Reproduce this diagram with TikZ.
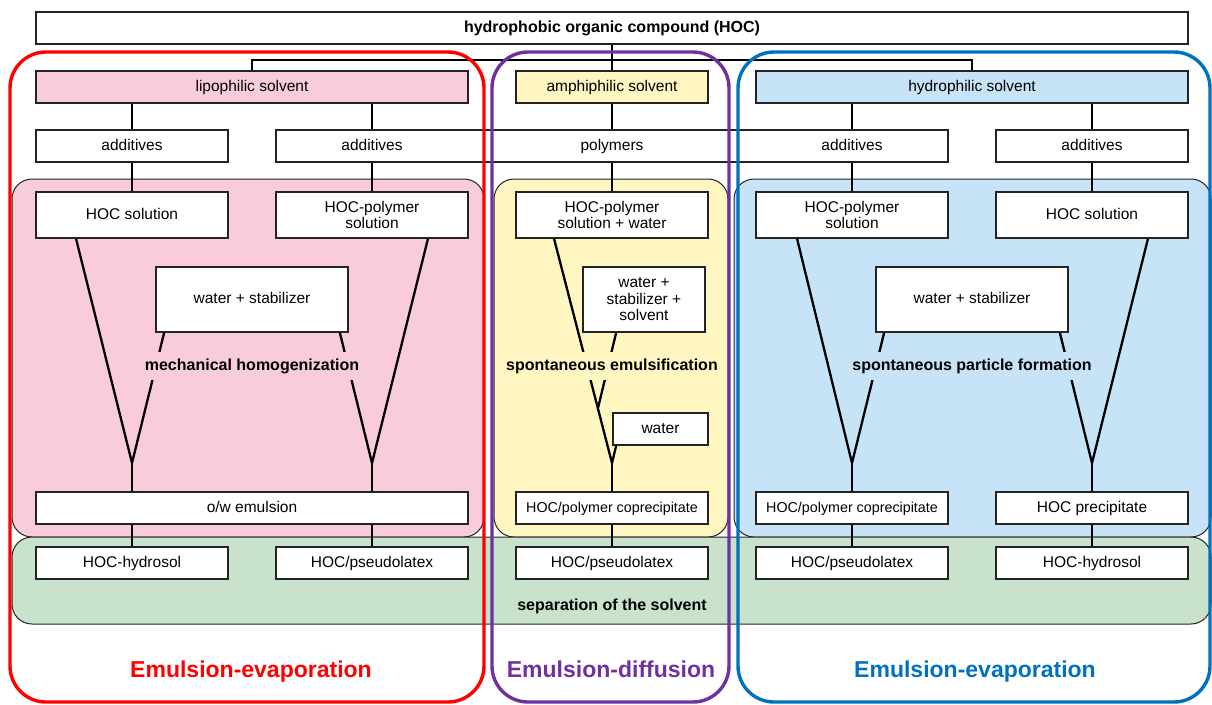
\documentclass[tikz,border=0pt]{standalone}
\usepackage{fontspec}
\setmainfont{Liberation Sans}
\usepackage{tikz}
\usepackage{color}
\definecolor{panelPink}{RGB}{248,204,218}
\definecolor{panelYellow}{RGB}{255,246,193}
\definecolor{panelBlue}{RGB}{199,227,247}
\definecolor{panelGreen}{RGB}{201,226,204}
\definecolor{frameRed}{RGB}{255,0,0}
\definecolor{framePurple}{RGB}{112,48,160}
\definecolor{frameBlue}{RGB}{0,112,192}
\definecolor{boxLine}{RGB}{35,35,35}

\begin{document}
\begin{tikzpicture}[x=1pt, y=-1pt, font=\fontsize{15.5}{16.5}\selectfont, line width=2.8pt, oneline/.style={text height=11.5pt, text depth=3.5pt}]
		\useasboundingbox (0,0) rectangle (1212,704);
		\begin{scope}[line width=1pt, rounded corners=20pt]
			\draw [draw=boxLine, fill=panelPink] (12,179) rectangle (484,537);
			\draw [draw=boxLine, fill=panelYellow] (494,179) rectangle (728,537);
			\draw [draw=boxLine, fill=panelBlue] (734,179) rectangle (1211,537);
			\draw [draw=boxLine, fill=panelGreen] (12,537) rectangle (1211,624);
		\end{scope}
		\begin{scope}[every node/.style={draw=boxLine, line width=1.8pt, fill=white, minimum width=192pt, minimum height=32pt, inner sep=0pt, align=center}]
			\node (hoc) at (612,28) [oneline, minimum width=1152pt, font=\fontsize{16}{17}\selectfont\bfseries] {hydrophobic organic compound (HOC)};
			\node (lipo) at (252,87) [oneline, minimum width=432pt, fill=panelPink] {lipophilic solvent};
			\node (amphi) at (612,87) [oneline, fill=panelYellow] {amphiphilic solvent};
			\node (hydro) at (972,87) [oneline, minimum width=432pt, fill=panelBlue] {hydrophilic solvent};
			\node (addL) at (132,146) [oneline] {additives};
			\node (poly) at (612,146) [oneline, minimum width=672pt] {polymers};
			\node (addR2) at (1092,146) [oneline] {additives};
			\node (solL) at (132,215) [oneline, minimum height=46pt] {HOC solution};
			\node (polL) at (372,215) [minimum height=46pt] {HOC-polymer\\solution};
			\node (polM) at (612,215) [minimum height=46pt] {HOC-polymer\\solution + water};
			\node (polR) at (852,215) [minimum height=46pt] {HOC-polymer\\solution};
			\node (solR) at (1092,215) [oneline, minimum height=46pt] {HOC solution};
			\node (stabL) at (252,299.5) [oneline, minimum height=65pt] {water + stabilizer};
			\node (stabM) at (644,299.5) [minimum width=122pt, minimum height=65pt] {water +\\stabilizer +\\solvent};
			\node (stabR) at (972,299.5) [oneline, minimum height=65pt] {water + stabilizer};
			\node (water) at (660.5,429) [oneline, minimum width=95pt] {water};
			\node (emul) at (252,508) [oneline, minimum width=432pt] {o/w emulsion};
			\node (copM) at (612,508) [oneline, font=\fontsize{14.3}{16}\selectfont] {HOC/polymer coprecipitate};
			\node (copR) at (852,508) [oneline, font=\fontsize{14.3}{16}\selectfont] {HOC/polymer coprecipitate};
			\node (precR) at (1092,508) [oneline] {HOC precipitate};
			\node (hydL) at (132,563) [oneline] {HOC-hydrosol};
			\node (pseuL) at (372,563) [oneline] {HOC/pseudolatex};
			\node (pseuM) at (612,563) [oneline] {HOC/pseudolatex};
			\node (pseuR) at (852,563) [oneline] {HOC/pseudolatex};
			\node (hydR) at (1092,563) [oneline] {HOC-hydrosol};
		\end{scope}
		\begin{scope}[every node/.style={oneline, minimum height=32pt, inner sep=0pt}]
			\node (addM) at (372,146) {additives};
			\node (addR) at (852,146) {additives};
		\end{scope}

		\coordinate (jn) at (612,60);
		\coordinate (mL) at (132,463);
		\coordinate (mL2) at (372,463);
		\coordinate (mMs) at (598,408);
		\coordinate (mM) at (612,463);
		\coordinate (mR) at (852,463);
		\coordinate (mR2) at (1092,463);

		\draw (hoc) -- (amphi);
		\draw (lipo) |- (jn) -| (hydro);
		\draw (addL |- lipo.south) -- (addL);
		\draw (addM |- lipo.south) -- (addM);
		\draw (amphi) -- (poly);
		\draw (addR |- hydro.south) -- (addR);
		\draw (addR2 |- hydro.south) -- (addR2);
		\draw (addL) -- (solL);
		\draw (addM) -- (polL);
		\draw (poly) -- (polM);
		\draw (addR) -- (polR);
		\draw (addR2) -- (solR);

		\begin{scope}[line width=2.3pt]
			\draw ([xshift=41pt]solL.south west) -- (mL);
			\draw ([xshift=9pt]stabL.south west) -- (mL);
			\draw ([xshift=-41pt]polL.south east) -- (mL2);
			\draw ([xshift=-9pt]stabL.south east) -- (mL2);
			\draw ([xshift=39pt]polM.south west) -- (mM);
			\draw ([xshift=34pt]stabM.south west) -- (mMs);
			\draw ([xshift=4pt]water.south west) -- (mM);
			\draw ([xshift=42pt]polR.south west) -- (mR);
			\draw ([xshift=9pt]stabR.south west) -- (mR);
			\draw ([xshift=-41pt]solR.south east) -- (mR2);
			\draw ([xshift=-9pt]stabR.south east) -- (mR2);
		\end{scope}
		\draw (mL) -- (emul.north -| mL);
		\draw (mL2) -- (emul.north -| mL2);
		\draw (mM) -- (copM);
		\draw (mR) -- (copR);
		\draw (mR2) -- (precR);
		\draw (emul.south -| hydL) -- (hydL);
		\draw (emul.south -| pseuL) -- (pseuL);
		\draw (copM) -- (pseuM);
		\draw (copR) -- (pseuR);
		\draw (precR) -- (hydR);

		\begin{scope}[every node/.style={font=\fontsize{16}{17}\selectfont\bfseries, inner xsep=2pt, inner ysep=7pt}]
			\node (mech) at (252,366) [fill=panelPink] {mechanical homogenization};
			\node (spEm) at (612,366) [fill=panelYellow] {spontaneous emulsification};
			\node (spPart) at (972,366) [fill=panelBlue] {spontaneous particle formation};
			\node (sep) at (612,606) {separation of the solvent};
		\end{scope}

		\begin{scope}[line width=3.4pt, rounded corners=36pt]
			\draw [frameRed] (10,52) rectangle (484,702);
			\draw [framePurple] (492,52) rectangle (729,702);
			\draw [frameBlue] (738,52) rectangle (1210,702);
		\end{scope}
		\begin{scope}[every node/.style={font=\fontsize{23}{26}\selectfont\bfseries, anchor=base}]
			\node (evapL) at (251,677) [text=frameRed] {Emulsion-evaporation};
			\node (diff) at (611,677) [text=framePurple] {Emulsion-diffusion};
			\node (evapR) at (975,677) [text=frameBlue] {Emulsion-evaporation};
		\end{scope}
	\end{tikzpicture}
\end{document}
